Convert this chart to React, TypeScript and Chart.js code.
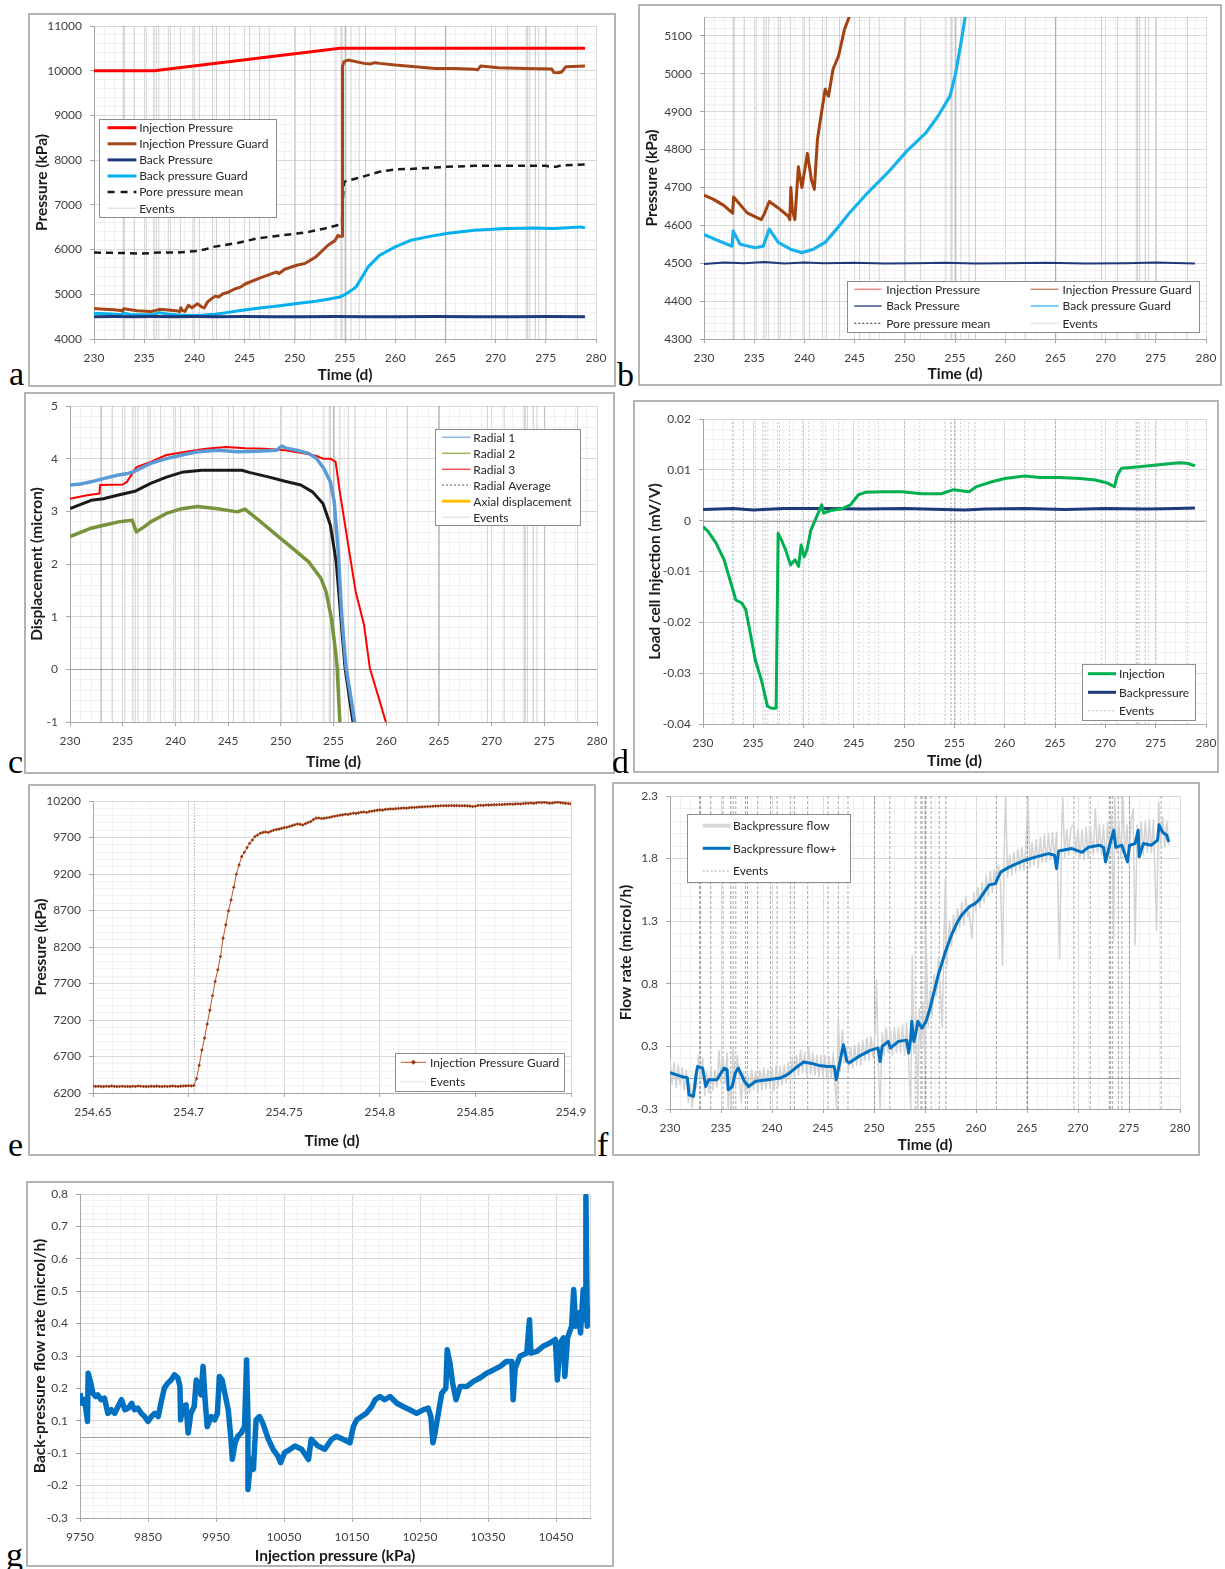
import React, { useEffect, useRef } from "react";
import { Chart, registerables } from "chart.js";

Chart.register(...registerables);

type Pt = [number, number];

const SANS = "Lato, 'Open Sans', 'Liberation Sans', sans-serif";
const SERIF = "'Liberation Serif', 'DejaVu Serif', serif";
Chart.defaults.font.family = SANS;

// ---------------- experiment log ----------------

// Logged events (time in days)
const EVENT_TIMES = [
  232.9, 233.0, 234.0, 235.2, 235.95, 236.2, 236.45, 237.4, 237.6, 238.6, 239.85,
  240.5, 241.8, 242.2, 243.5, 245.5, 246.5, 247.45, 250.05, 251.55, 254.1, 254.6,
  254.703, 255.0, 255.1, 255.6, 256.4, 257.05, 262.0, 265.0, 265.05, 269.6, 271.2,
  273.1, 273.2, 273.4, 273.95, 274.3, 275.05, 278.15,
];

// Pressures (kPa) against time (d)
const INJECTION_PRESSURE: Pt[] = [[230, 10000], [236, 10000], [254.5, 10500], [278.9, 10500]];

const INJECTION_GUARD: Pt[] = [
  [230, 4680], [231, 4668], [232, 4652], [232.85, 4632], [232.95, 4675], [234.3, 4633],
  [235.7, 4615], [236.0, 4630], [236.5, 4663], [237.4, 4646], [238.4, 4624], [238.55, 4615],
  [238.65, 4700], [238.8, 4640], [239.05, 4615], [239.4, 4755], [239.75, 4700], [240.3, 4790],
  [240.7, 4720], [240.99, 4695], [241.3, 4827], [241.7, 4897], [242.07, 4959], [242.4, 4941],
  [242.85, 5012], [243.4, 5047], [244.0, 5118], [244.6, 5160], [245.05, 5230], [246.5, 5360],
  [248.2, 5500], [248.4, 5460], [249, 5560], [250.2, 5649], [251.0, 5687], [252.1, 5836],
  [253.3, 6097], [254.0, 6200], [254.3, 6321], [254.5, 6290], [254.703, 6300], [254.72, 8700],
  [254.737, 9700], [254.8, 10100], [254.9, 10201], [255.3, 10239], [256.9, 10164], [257.5, 10150],
  [258, 10180], [258.45, 10164], [260.0, 10127], [262.0, 10090], [264, 10052], [265.9, 10052],
  [267.9, 10030], [268.2, 10020], [268.5, 10104], [270.3, 10067], [273, 10052], [275.6, 10037],
  [275.8, 9960], [276.3, 9955], [276.6, 9977], [277, 10090], [278.9, 10104],
];

const BACK_PRESSURE: Pt[] = [
  [230, 4498], [232, 4502], [234, 4500], [236, 4503], [238, 4499], [240, 4502], [242, 4500],
  [245, 4501], [248, 4499], [251, 4500], [254, 4501], [257, 4499], [260, 4500], [264, 4501],
  [268, 4499], [272, 4500], [275, 4502], [278.9, 4499],
];

const BACK_GUARD: Pt[] = [
  [230, 4576], [231.2, 4562], [232.8, 4545], [232.9, 4585], [233.6, 4550], [235.1, 4541],
  [235.9, 4545], [236.5, 4590], [237.4, 4555], [238.6, 4537], [239.75, 4528], [240.9, 4537],
  [242.07, 4555], [243.2, 4590], [244.4, 4630], [246.3, 4686], [248.3, 4739], [250.2, 4796],
  [252.1, 4844], [253.3, 4888], [254.5, 4941], [255.04, 4998], [255.6, 5082], [256.1, 5164],
  [257.3, 5612], [258.45, 5873], [260, 6060], [261.6, 6209], [263.2, 6284], [265.1, 6358],
  [267.9, 6433], [271.05, 6470], [273.8, 6485], [275.8, 6470], [278.5, 6507], [278.9, 6485],
];

const PORE_MEAN: Pt[] = [
  [230, 5933], [232.4, 5925], [234.8, 5910], [236.4, 5933], [238.35, 5933], [240.3, 5970],
  [241.1, 6007], [241.9, 6060], [244.3, 6149], [246.2, 6246], [248.2, 6306], [250.2, 6358],
  [251.4, 6396], [253, 6470], [254.5, 6560], [254.7, 6600], [254.75, 7000], [254.9, 7515],
  [256.1, 7590], [257.3, 7664], [258.45, 7739], [260, 7791], [262.4, 7813], [265.1, 7851],
  [267.9, 7873], [270.7, 7873], [275, 7873], [275.4, 7851], [276, 7850], [276.5, 7880], [278.9, 7903],
];

// Displacements (micron)
const RADIAL_1: Pt[] = [
  [230, 3.5], [231, 3.52], [232, 3.56], [233.15, 3.62], [234.6, 3.69], [235.5, 3.72], [236.15, 3.76],
  [237.65, 3.91], [239.15, 4.0], [240.6, 4.07], [242.1, 4.13], [244.0, 4.16], [245.9, 4.13],
  [247.75, 4.14], [249.6, 4.16], [250.1, 4.24], [250.5, 4.2], [251.5, 4.16], [252.65, 4.1],
  [253.4, 4.0], [254.1, 3.81], [254.7, 3.56], [255.07, 3.18], [255.45, 2.23], [255.8, 0.97],
  [256.2, 0.02], [256.76, -0.67], [257.0, -1.0], [257.1, -1.2],
];
const RADIAL_2: Pt[] = [
  [230, 2.52], [231, 2.6], [232, 2.68], [233.3, 2.74], [234.6, 2.8], [235.9, 2.83], [236.3, 2.61],
  [237, 2.7], [237.65, 2.8], [239.15, 2.96], [240.6, 3.05], [242.1, 3.09], [244.0, 3.05],
  [245.9, 2.99], [246.6, 3.04], [248.1, 2.8], [249.6, 2.55], [251.1, 2.3], [252.65, 2.04],
  [253.8, 1.73], [254.3, 1.47], [254.8, 0.97], [255.2, 0.34], [255.35, 0.02], [255.6, -1.0], [255.65, -1.2],
];
const RADIAL_3: Pt[] = [
  [230, 3.24], [231.5, 3.3], [232.8, 3.34], [232.85, 3.5], [235, 3.51], [235.4, 3.56], [236.3, 3.84],
  [237.65, 3.94], [239.15, 4.07], [241, 4.13], [242.9, 4.19], [244.8, 4.22], [246.6, 4.2],
  [248.5, 4.19], [250.4, 4.16], [252.3, 4.1], [253.4, 4.05], [254.0, 4.0], [254.7, 4.0],
  [255.2, 3.94], [255.6, 3.37], [256.4, 2.36], [257.1, 1.48], [257.9, 0.84], [258.45, 0.02],
  [259.2, -0.48], [259.95, -0.99], [260.1, -1.1],
];
const RADIAL_AVERAGE: Pt[] = [
  [230, 3.05], [232, 3.21], [233.15, 3.24], [234.6, 3.31], [236.15, 3.38], [237.65, 3.53],
  [239.15, 3.65], [240.6, 3.74], [242.5, 3.78], [244.4, 3.78], [246.3, 3.78], [247, 3.74],
  [248.9, 3.65], [250.4, 3.57], [251.9, 3.5], [253, 3.37], [254, 3.15], [254.7, 2.74],
  [255.26, 2.04], [255.7, 0.97], [256.1, 0.02], [256.6, -0.67], [256.85, -1.0], [256.95, -1.2],
];
// no axial samples inside the plotted window
const AXIAL_DISPLACEMENT: Pt[] = [];

// Load cells (mV/V)
const LOAD_INJECTION: Pt[] = [
  [230, -0.00116], [230.5, -0.0021], [231.3, -0.0044], [232.1, -0.0077], [232.87, -0.0129],
  [233.26, -0.0156], [233.85, -0.0162], [234.25, -0.0175], [234.64, -0.0215], [235.2, -0.0274],
  [235.8, -0.0313], [236.4, -0.0365], [236.8, -0.0369], [237.27, -0.0369], [237.47, -0.0025],
  [237.8, -0.0038], [238.2, -0.0057], [238.7, -0.0087], [239.15, -0.0077], [239.5, -0.009],
  [239.75, -0.0048], [240.06, -0.0071], [240.34, -0.0057], [240.73, -0.0018], [241.3, 0.0008],
  [241.8, 0.0031], [241.98, 0.0015], [242.7, 0.002], [243.9, 0.0024], [244.66, 0.0031],
  [245.45, 0.0051], [246.2, 0.0056], [247.8, 0.0057], [249.8, 0.0057], [251.7, 0.0053],
  [253.7, 0.0053], [254.9, 0.0061], [256.45, 0.0057], [257.2, 0.0067], [258.8, 0.0077],
  [260, 0.0083], [261.95, 0.0088], [263.5, 0.0085], [265.5, 0.0085], [267.5, 0.0083],
  [269, 0.008], [270.2, 0.0074], [270.9, 0.0067], [271.2, 0.009], [271.6, 0.0103],
  [273.35, 0.0106], [275.3, 0.011], [277.3, 0.0114], [278.1, 0.0113], [278.9, 0.0108],
];
const LOAD_BACKPRESSURE: Pt[] = [
  [230, 0.0022], [233, 0.0024], [235, 0.0021], [238, 0.0024], [242, 0.0024], [246, 0.0023],
  [250, 0.0024], [254, 0.0022], [256, 0.0021], [258, 0.0023], [262, 0.0024], [266, 0.0022],
  [270, 0.0024], [274, 0.0023], [277, 0.0024], [278.9, 0.0025],
];

// Injection pressure guard around the breakthrough, logged every 2 minutes
const E_START = 254.65;
const E_STEP = 1 / 720;
const E_GUARD_KPA = [
  6295, 6290, 6292, 6290, 6288, 6292, 6290, 6295, 6290, 6288, 6290, 6292, 6290, 6290, 6288, 6292,
  6290, 6295, 6292, 6290, 6288, 6290, 6292, 6290, 6294, 6290, 6288, 6292, 6290, 6292, 6296, 6292,
  6290, 6294, 6296, 6298, 6300, 6298, 6302,
  6396, 6579, 6788, 6952, 7144, 7335, 7532, 7728, 7888, 8070, 8321, 8503, 8695, 8845, 9019, 9197,
  9324, 9438, 9498, 9561, 9621, 9666, 9712, 9735, 9758,
  9770, 9775, 9768, 9785, 9800, 9810, 9815, 9825, 9835, 9840, 9850, 9862, 9875, 9885, 9880, 9872,
  9890, 9905, 9920, 9945, 9965, 9968, 9960, 9962,
  9970, 9975, 9985, 9992, 9998, 10005, 10010, 10018, 10015, 10025, 10032, 10030, 10038,
  10045, 10050, 10042, 10055, 10060, 10068, 10072, 10078, 10075, 10085, 10088, 10092, 10090, 10095, 10098,
  10100, 10105, 10102, 10108, 10112, 10110, 10115, 10118, 10120, 10122, 10125, 10124, 10128, 10130, 10132,
  10134, 10135, 10136, 10135, 10138, 10136, 10137, 10135, 10134, 10136, 10133, 10130, 10125, 10128, 10140,
  10142, 10140, 10145, 10144, 10146, 10150, 10148, 10152, 10150, 10154, 10156, 10158, 10155, 10160,
  10162, 10158, 10165, 10168, 10170, 10172, 10168, 10175, 10180, 10178, 10182, 10176, 10170, 10172,
  10180, 10184, 10178, 10172, 10168, 10165, 10160,
];

// Back-pressure flow (microl/h)
const FLOW_RAW: Pt[] = [
  [230.0, 0.15], [230.2, -0.05], [230.4, 0.12], [230.6, -0.08], [230.8, 0.1], [231.0, -0.06],
  [231.2, 0.08], [231.4, -0.1], [231.6, 0.06], [231.8, -0.2], [232.0, -0.05], [232.2, -0.24],
  [232.4, 0.02], [232.6, -0.08], [232.8, 0.18], [233.0, -0.02], [233.2, 0.16], [233.4, -0.14],
  [233.6, 0.05], [233.8, -0.12], [234.0, 0.08], [234.2, -0.1], [234.4, 0.06], [234.6, -0.08],
  [234.8, 0.22], [235.0, -0.04], [235.2, 0.16], [235.4, -0.05], [235.6, 0.2], [235.7, -0.25],
  [235.9, 0.02], [236.0, -0.25], [236.2, 0.24], [236.4, -0.06], [236.6, 0.18], [236.8, -0.02],
  [237.0, -0.2], [237.2, 0.05], [237.4, -0.14], [237.6, 0.04], [237.8, -0.12], [238.0, 0.06],
  [238.2, -0.1], [238.4, 0.05], [238.6, -0.12], [238.8, 0.06], [239.0, -0.1], [239.2, 0.08],
  [239.4, -0.09], [239.6, 0.07], [239.8, -0.08], [240.0, 0.08], [240.2, -0.1], [240.4, 0.1],
  [240.6, -0.07], [240.8, 0.09], [241.0, -0.06], [241.2, 0.1], [241.4, -0.04], [241.6, 0.12],
  [241.8, -0.02], [242.0, 0.16], [242.2, 0.0], [242.4, 0.18], [242.6, 0.02], [242.8, 0.22],
  [243.0, 0.04], [243.2, 0.2], [243.4, 0.02], [243.6, 0.24], [243.8, 0.03], [244.0, 0.2],
  [244.2, 0.02], [244.4, 0.18], [244.6, 0.0], [244.8, 0.18], [245.0, 0.01], [245.2, 0.18],
  [245.4, -0.02], [245.6, 0.17], [245.8, 0.0], [246.0, 0.2], [246.2, -0.08], [246.35, -0.25],
  [246.5, 0.48], [246.7, 0.05], [246.9, 0.38], [247.1, 0.12], [247.3, 0.24], [247.5, 0.06],
  [247.7, 0.25], [247.9, 0.08], [248.1, 0.26], [248.3, 0.1], [248.5, 0.28], [248.7, 0.1],
  [248.9, 0.3], [249.1, 0.14], [249.3, 0.32], [249.5, 0.14], [249.7, 0.33], [249.9, 0.16],
  [250.1, 0.36], [250.25, 0.78], [250.4, 0.16], [250.6, -0.25], [250.8, 0.36], [251.0, 0.18],
  [251.2, 0.4], [251.4, 0.2], [251.6, 0.38], [251.8, 0.18], [252.0, 0.4], [252.2, 0.2],
  [252.4, 0.4], [252.6, 0.2], [252.8, 0.42], [253.0, 0.18], [253.2, 0.44], [253.4, 0.12],
  [253.6, -0.25], [253.75, 0.98], [253.9, 0.2], [254.1, 0.5], [254.3, -0.25], [254.45, 0.55],
  [254.6, 0.25], [254.8, 0.6], [255.0, 0.1], [255.1, 1.17], [255.3, 0.4], [255.5, 0.7],
  [255.7, 0.5], [255.9, 0.82], [256.1, 0.65], [256.3, 0.95], [256.5, 0.7], [256.7, 0.4],
  [256.85, 1.1], [257.0, 1.59], [257.15, 0.9], [257.4, 1.25], [257.6, 1.05], [257.8, 1.3],
  [258.0, 1.15], [258.2, 1.35], [258.4, 1.2], [258.6, 1.4], [258.8, 1.22], [259.0, 1.45],
  [259.2, 1.28], [259.35, 1.33], [259.6, 1.11], [259.8, 1.48], [260.0, 1.32], [260.2, 1.52],
  [260.4, 1.36], [260.6, 1.56], [260.8, 1.4], [261.0, 1.62], [261.2, 1.45], [261.4, 1.65],
  [261.6, 1.48], [261.8, 1.66], [262.0, 1.5], [262.2, 1.7], [262.4, 1.55], [262.6, 0.9],
  [262.75, 1.74], [262.9, 2.24], [263.1, 1.6], [263.3, 1.78], [263.5, 1.62], [263.7, 1.8],
  [263.9, 1.64], [264.1, 1.82], [264.3, 1.66], [264.5, 1.84], [264.7, 1.66], [264.9, 1.86],
  [265.1, 2.23], [265.3, 1.68], [265.5, 1.88], [265.7, 1.7], [265.9, 1.9], [266.1, 1.68],
  [266.3, 1.92], [266.5, 1.72], [266.7, 1.94], [266.9, 1.72], [267.1, 1.95], [267.3, 1.74],
  [267.5, 1.96], [267.7, 1.76], [267.9, 1.96], [268.2, 0.95], [268.4, 1.98], [268.5, 2.25],
  [268.7, 1.76], [268.9, 1.98], [269.1, 1.78], [269.3, 2.0], [269.6, 2.02], [269.8, 1.78],
  [270.0, 1.98], [270.2, 1.76], [270.4, 1.98], [270.6, 1.74], [270.8, 2.0], [271.0, 1.76],
  [271.2, 2.0], [271.5, 1.78], [271.7, 2.15], [271.9, 1.8], [272.1, 2.02], [272.3, 1.78],
  [272.5, 2.02], [272.7, 1.7], [272.9, 2.04], [273.1, 1.78], [273.3, 2.1], [273.5, 1.1],
  [273.6, 2.25], [273.8, 1.8], [274.0, 2.05], [274.2, 1.75], [274.4, 2.25], [274.6, 1.75],
  [274.8, 2.02], [275.0, 1.7], [275.2, 2.05], [275.4, 2.15], [275.6, 1.06], [275.8, 2.02],
  [276.0, 1.78], [276.2, 2.04], [276.4, 1.78], [276.6, 2.05], [276.8, 1.8], [277.0, 2.06],
  [277.2, 1.8], [277.4, 2.06], [277.7, 1.18], [277.9, 2.2], [278.1, 1.85], [278.3, 2.08],
  [278.5, 1.84], [278.7, 2.05], [278.9, 1.86],
];

const FLOW_SMOOTH: Pt[] = [
  [230, 0.04], [231.1, 0.01], [231.7, 0.0], [231.86, -0.136], [232.3, -0.149], [232.56, 0.025],
  [232.7, 0.09], [233.2, 0.077], [233.5, -0.07], [233.8, -0.016], [234.6, -0.016], [235.3, 0.077],
  [235.6, 0.064], [235.7, -0.096], [236.1, -0.07], [236.4, 0.037], [236.7, 0.077], [237.3, -0.029],
  [237.7, -0.07], [238.4, -0.029], [239.6, -0.016], [240.8, -0.003], [241.5, 0.024], [242.3, 0.077],
  [243.1, 0.125], [243.9, 0.114], [244.6, 0.098], [245.4, 0.09], [246.1, 0.09], [246.3, -0.016],
  [246.6, 0.103], [247.0, 0.263], [247.35, 0.13], [247.55, 0.117], [248.5, 0.17], [249.7, 0.22],
  [250.4, 0.236], [250.6, 0.13], [250.8, 0.25], [251.4, 0.29], [251.6, 0.236], [252.4, 0.29],
  [253.2, 0.3], [253.4, 0.197], [253.6, 0.316], [253.7, 0.45], [253.9, 0.29], [254.1, 0.356],
  [254.3, 0.45], [254.7, 0.396], [255.1, 0.45], [255.5, 0.555], [255.9, 0.69], [256.3, 0.82],
  [256.65, 0.914], [257.0, 1.006], [257.6, 1.14], [258.2, 1.246], [258.6, 1.3], [259.35, 1.366],
  [259.9, 1.39], [260.3, 1.42], [260.7, 1.47], [261.3, 1.54], [261.9, 1.55], [262.1, 1.59],
  [262.45, 1.644], [263.2, 1.68], [264, 1.71], [264.8, 1.737], [265.9, 1.764], [267.1, 1.79],
  [267.7, 1.777], [267.9, 1.67], [268.1, 1.81], [269.4, 1.83], [270.4, 1.8], [271, 1.84],
  [272.1, 1.857], [272.5, 1.84], [272.7, 1.724], [273.1, 1.857], [273.5, 1.976], [273.7, 1.84],
  [274.3, 1.857], [274.85, 1.724], [275.05, 1.857], [275.6, 1.87], [275.9, 1.976], [276, 1.764],
  [276.4, 1.87], [277.2, 1.857], [277.8, 1.897], [277.95, 2.02], [278.3, 1.96], [278.7, 1.936],
  [278.9, 1.883],
];

// Back-pressure flow rate (microl/h) against injection pressure (kPa)
const FLOW_VS_PRESSURE: Pt[] = [
  [9750, 0.135], [9753, 0.104], [9757, 0.115], [9761, 0.048], [9762, 0.197], [9766, 0.166],
  [9769, 0.135], [9773, 0.125], [9776, 0.13], [9781, 0.115], [9786, 0.12], [9791, 0.073],
  [9796, 0.084], [9801, 0.073], [9806, 0.094], [9811, 0.115], [9816, 0.084], [9821, 0.089],
  [9826, 0.104], [9830, 0.084], [9835, 0.089], [9840, 0.073], [9845, 0.063], [9850, 0.048],
  [9855, 0.063], [9860, 0.073], [9865, 0.063], [9869, 0.104], [9874, 0.151], [9879, 0.166],
  [9884, 0.176], [9889, 0.192], [9894, 0.182], [9897, 0.156], [9898, 0.053], [9901, 0.094],
  [9906, 0.099], [9909, 0.012], [9913, 0.073], [9918, 0.094], [9921, 0.176], [9925, 0.156],
  [9928, 0.13], [9931, 0.218], [9934, 0.115], [9937, 0.032], [9943, 0.063], [9948, 0.053],
  [9952, 0.073], [9955, 0.187], [9959, 0.176], [9963, 0.135], [9968, 0.084], [9972, -0.007],
  [9974, -0.069], [9978, -0.018], [9982, 0.002], [9987, 0.012], [9992, 0.032], [9995, 0.238],
  [9997, 0.053], [9997, -0.162], [10001, -0.069], [10005, -0.1], [10009, 0.053], [10014, 0.063],
  [10019, 0.042], [10027, -0.007], [10034, -0.038], [10041, -0.059], [10045, -0.079],
  [10051, -0.048], [10059, -0.038], [10066, -0.028], [10076, -0.038], [10086, -0.069],
  [10090, -0.007], [10100, -0.028], [10110, -0.038], [10120, -0.007], [10127, 0.002],
  [10137, -0.007], [10147, -0.018], [10152, 0.032], [10157, 0.053], [10164, 0.063],
  [10171, 0.073], [10179, 0.094], [10184, 0.115], [10191, 0.125], [10198, 0.115], [10206, 0.125],
  [10216, 0.104], [10225, 0.094], [10235, 0.084], [10245, 0.073], [10255, 0.084], [10262, 0.089],
  [10266, 0.063], [10269, -0.018], [10272, 0.012], [10277, 0.073], [10282, 0.135], [10288, 0.151],
  [10290, 0.269], [10294, 0.228], [10298, 0.166], [10303, 0.115], [10309, 0.156], [10319, 0.156],
  [10328, 0.171], [10338, 0.182], [10348, 0.197], [10358, 0.207], [10368, 0.218], [10377, 0.233],
  [10385, 0.233], [10387, 0.115], [10390, 0.213], [10397, 0.249], [10407, 0.259], [10411, 0.362],
  [10413, 0.259], [10422, 0.264], [10431, 0.28], [10441, 0.29], [10449, 0.301], [10452, 0.176],
  [10456, 0.29], [10461, 0.306], [10463, 0.187], [10467, 0.306], [10473, 0.342], [10476, 0.455],
  [10479, 0.342], [10483, 0.383], [10486, 0.321], [10490, 0.455], [10493, 0.362], [10494, 0.743],
  [10496, 0.342], [10499, 0.393], [10500, 0.352],
];

// ---------------- chart helpers ----------------

const BW = 2; // panel frame width
const MAJOR_GRID = "#d9d9d9";
const MINOR_GRID = "#f1f1f1";
const AXIS_LINE = "#a6a6a6";
const TITLE_FONT = 15.5;
const TITLE_LH = 1.2;

type Geo = { box: number[]; plot: number[]; yTitleX: number; xTitleY: number };

interface AxisSpec {
  min: number;
  max: number;
  origin?: number;
  minor: number;
  major: number;
  title: string;
  fmt: (v: number) => string;
}

const near = (a: number, b: number) => Math.abs(a - b) < 1e-7;
const isMajor = (s: AxisSpec, v: number) => {
  const k = (v - (s.origin ?? s.min)) / s.major;
  return Math.abs(k - Math.round(k)) < 1e-6;
};
// spreadsheet style rounding to one decimal (half away from zero)
const oneDecimal = (v: number) => (Math.sign(v) * Math.round(Math.abs(v) * 10 + 1e-7) / 10).toFixed(1);
const plain = (v: number) => String(+v.toFixed(4));

function gridValues(s: AxisSpec) {
  const o = s.origin ?? s.min;
  const out: number[] = [];
  for (let i = 0; i < 2000; i++) {
    const v = Math.round((o + i * s.minor) * 1e9) / 1e9;
    if (v > s.max + 1e-9) break;
    if (v >= s.min - 1e-9) out.push(v);
  }
  if (!near(out[out.length - 1], s.max)) out.push(s.max);
  return out;
}

function scaleCfg(s: AxisSpec, axis: "x" | "y", size: number, titlePad: number) {
  const values = gridValues(s);
  const strong = (v: number) => isMajor(s, v) || near(v, s.min) || near(v, s.max);
  return {
    type: "linear",
    position: axis === "x" ? "bottom" : "left",
    min: s.min,
    max: s.max,
    afterBuildTicks: (sc: any) => {
      sc.ticks = values.map((value) => ({ value }));
    },
    afterFit: (sc: any) => {
      if (axis === "x") sc.height = size;
      else sc.width = size;
      sc.paddingLeft = 0;
      sc.paddingRight = 0;
      sc.paddingTop = 0;
      sc.paddingBottom = 0;
    },
    grid: {
      color: (c: any) => (c.tick && strong(c.tick.value) ? MAJOR_GRID : MINOR_GRID),
      lineWidth: 1,
      drawTicks: true,
      tickLength: 4,
      tickColor: (c: any) => (c.tick && isMajor(s, c.tick.value) ? AXIS_LINE : "rgba(0,0,0,0)"),
    },
    border: { display: true, color: AXIS_LINE, width: 1 },
    ticks: {
      autoSkip: false,
      maxRotation: 0,
      minRotation: 0,
      padding: 8,
      color: "#404040",
      font: { family: SANS, size: 12 },
      callback: (v: number) => (isMajor(s, v) ? s.fmt(v) : ""),
    },
    title: {
      display: true,
      text: s.title,
      color: "#1a1a1a",
      font: { family: SANS, size: TITLE_FONT, weight: "bold", lineHeight: TITLE_LH },
      padding: axis === "x" ? { top: 0, bottom: titlePad } : { top: titlePad, bottom: 0 },
    },
  };
}

const toXY = (pts: Pt[]) => pts.map(([x, y]) => ({ x, y }));

function series(label: string, pts: Pt[], color: string, width: number, dash: number[] = [], extra: any = {}) {
  return {
    label,
    data: toXY(pts),
    borderColor: color,
    backgroundColor: color,
    borderWidth: width,
    borderDash: dash,
    pointRadius: 0,
    fill: false,
    tension: 0,
    borderJoinStyle: "round",
    ...extra,
  };
}

function eventSeries(lo: number, hi: number, color: string, dash: number[] = []) {
  const data: { x: number; y: number | null }[] = [];
  EVENT_TIMES.forEach((t) => {
    data.push({ x: t, y: lo }, { x: t, y: hi }, { x: t, y: null });
  });
  return {
    label: "Events",
    data,
    borderColor: color,
    borderWidth: 1,
    borderDash: dash,
    pointRadius: 0,
    fill: false,
    spanGaps: false,
    order: 99,
  };
}

interface LegendStyle {
  color: string;
  width: number;
  dash?: number[];
  marker?: string;
}
interface LegendSpec {
  box: number[];
  rows: number[];
  cols: number[][]; // [sample start, sample end, text x] per column
  styles: LegendStyle[];
}

function legendPlugin(spec: LegendSpec, ox: number, oy: number) {
  return {
    id: "boxLegend",
    afterDraw(chart: any) {
      const ctx = chart.ctx;
      const labels = chart.data.datasets.map((d: any) => d.label);
      const [l, t, r, b] = spec.box;
      ctx.save();
      ctx.fillStyle = "#ffffff";
      ctx.fillRect(l - ox, t - oy, r - l, b - t);
      ctx.strokeStyle = "#8c8c8c";
      ctx.lineWidth = 1;
      ctx.setLineDash([]);
      ctx.strokeRect(Math.round(l - ox) + 0.5, Math.round(t - oy) + 0.5, Math.round(r - l), Math.round(b - t));
      ctx.font = `12px ${SANS}`;
      ctx.textBaseline = "middle";
      ctx.textAlign = "left";
      const nCols = spec.cols.length;
      spec.styles.forEach((st, i) => {
        const [s0, s1, tx] = spec.cols[i % nCols];
        const y = spec.rows[Math.floor(i / nCols)] - oy;
        ctx.beginPath();
        ctx.setLineDash(st.dash || []);
        ctx.strokeStyle = st.color;
        ctx.lineWidth = st.width;
        ctx.moveTo(s0 - ox, y);
        ctx.lineTo(s1 - ox, y);
        ctx.stroke();
        ctx.setLineDash([]);
        if (st.marker) {
          const cx = (s0 + s1) / 2 - ox;
          ctx.fillStyle = st.marker;
          ctx.beginPath();
          ctx.moveTo(cx, y - 2.5);
          ctx.lineTo(cx + 2.5, y);
          ctx.lineTo(cx, y + 2.5);
          ctx.lineTo(cx - 2.5, y);
          ctx.closePath();
          ctx.fill();
        }
        ctx.fillStyle = "#262626";
        ctx.fillText(labels[i], tx - ox, y + 0.5);
      });
      ctx.restore();
    },
  };
}

const zeroLine = {
  id: "zeroLine",
  beforeDatasetsDraw(chart: any) {
    const { left, right } = chart.chartArea;
    const py = Math.round(chart.scales.y.getPixelForValue(0)) + 0.5;
    const ctx = chart.ctx;
    ctx.save();
    ctx.strokeStyle = "#a0a0a0";
    ctx.lineWidth = 1;
    ctx.beginPath();
    ctx.moveTo(left, py);
    ctx.lineTo(right, py);
    ctx.stroke();
    ctx.restore();
  },
};

function buildConfig(geo: Geo, x: AxisSpec, y: AxisSpec, datasets: any[], legend: LegendSpec | null, withZero: boolean) {
  const il = geo.box[0] + BW;
  const it = geo.box[1] + BW;
  const ir = geo.box[2] - BW;
  const ib = geo.box[3] - BW;
  const [pl, pt, pr, pb] = geo.plot;
  const half = (TITLE_FONT * TITLE_LH) / 2;
  const plugins: any[] = [];
  if (withZero) plugins.push(zeroLine);
  if (legend) plugins.push(legendPlugin(legend, il, it));
  return {
    type: "line",
    data: { datasets },
    plugins,
    options: {
      responsive: false,
      maintainAspectRatio: false,
      animation: false,
      devicePixelRatio: 1,
      events: [],
      layout: { padding: { left: 0, top: pt - it, right: ir - pr, bottom: 0 } },
      plugins: { legend: { display: false }, tooltip: { enabled: false }, title: { display: false } },
      elements: { point: { radius: 0 }, line: { tension: 0 } },
      scales: {
        x: scaleCfg(x, "x", ib - pb, ib - geo.xTitleY - half),
        y: scaleCfg(y, "y", pl - il, geo.yTitleX - il - half),
      },
    },
  };
}

const timeAxis = (): AxisSpec => ({ min: 230, max: 280, minor: 1, major: 5, title: "Time (d)", fmt: plain });

// ---------------- panels ----------------

const GEO: Record<string, Geo> = {
  a: { box: [28, 13, 616, 387], plot: [94, 26, 596, 339], yTitleX: 41.5, xTitleY: 375 },
  b: { box: [638, 4, 1222, 386], plot: [704, 17, 1206, 339], yTitleX: 652, xTitleY: 374 },
  c: { box: [24, 392, 615, 774], plot: [70, 406, 597, 722], yTitleX: 36.5, xTitleY: 761.5 },
  d: { box: [633, 400, 1219, 773], plot: [703, 419, 1206, 724], yTitleX: 654.5, xTitleY: 760.5 },
  e: { box: [28, 784, 596, 1156], plot: [93, 801, 571, 1093], yTitleX: 41, xTitleY: 1140.5 },
  f: { box: [612, 782, 1200, 1156], plot: [670, 796, 1180, 1109], yTitleX: 625.5, xTitleY: 1145 },
  g: { box: [26, 1181, 614, 1567], plot: [80, 1194, 590, 1518], yTitleX: 39.5, xTitleY: 1555.5 },
};

function configA(geo: Geo) {
  const y: AxisSpec = { min: 4000, max: 11000, minor: 200, major: 1000, title: "Pressure (kPa)", fmt: plain };
  const ds = [
    series("Injection Pressure", INJECTION_PRESSURE, "#ff0000", 3),
    series("Injection Pressure Guard", INJECTION_GUARD, "#a5461a", 3),
    series("Back Pressure", BACK_PRESSURE, "#1f3a7a", 3),
    series("Back pressure Guard", BACK_GUARD, "#00b0f0", 3),
    series("Pore pressure mean", PORE_MEAN, "#1a1a1a", 2.5, [7, 5]),
    eventSeries(4000, 11000, "rgba(130,130,130,0.35)"),
  ];
  const legend: LegendSpec = {
    box: [99, 119, 276, 217],
    rows: [127.7, 143.8, 159.9, 176, 192.1, 208.2],
    cols: [[107.6, 136.4, 139.2]],
    styles: [
      { color: "#ff0000", width: 3 },
      { color: "#a5461a", width: 3 },
      { color: "#1f3a7a", width: 3 },
      { color: "#00b0f0", width: 3 },
      { color: "#1a1a1a", width: 2.5, dash: [7, 6] },
      { color: "#d4d4d4", width: 1 },
    ],
  };
  return buildConfig(geo, timeAxis(), y, ds, legend, false);
}

function configB(geo: Geo) {
  const y: AxisSpec = { min: 4300, max: 5150, origin: 4300, minor: 20, major: 100, title: "Pressure (kPa)", fmt: plain };
  const ds = [
    series("Injection Pressure", INJECTION_PRESSURE, "#ff0000", 1.5),
    series("Injection Pressure Guard", INJECTION_GUARD, "#a3410f", 3),
    series("Back Pressure", BACK_PRESSURE, "#1f3a7a", 2),
    series("Back pressure Guard", BACK_GUARD, "#17b2ee", 3.2),
    series("Pore pressure mean", PORE_MEAN, "#404040", 1.2, [2, 2]),
    eventSeries(4300, 5150, "rgba(130,130,130,0.35)"),
  ];
  const legend: LegendSpec = {
    box: [847, 281, 1199, 332],
    rows: [289.3, 306, 323.3],
    cols: [
      [854.3, 881.5, 886.2],
      [1030.6, 1058.6, 1062.5],
    ],
    styles: [
      { color: "#f28a8a", width: 1.5 },
      { color: "#c98f70", width: 1.5 },
      { color: "#3a4f8f", width: 1.5 },
      { color: "#4cc3f0", width: 1.5 },
      { color: "#505050", width: 1.2, dash: [2, 2] },
      { color: "#d9d9d9", width: 1 },
    ],
  };
  return buildConfig(geo, timeAxis(), y, ds, legend, false);
}

function configC(geo: Geo) {
  const y: AxisSpec = { min: -1, max: 5, minor: 0.2, major: 1, title: "Displacement (micron)", fmt: plain };
  const ds = [
    series("Radial 1", RADIAL_1, "#5b9bd5", 3.5),
    series("Radial 2", RADIAL_2, "#77933c", 3.5),
    series("Radial 3", RADIAL_3, "#ff0000", 2),
    series("Radial Average", RADIAL_AVERAGE, "#1a1a1a", 3),
    series("Axial displacement", AXIAL_DISPLACEMENT, "#ffc000", 3),
    eventSeries(-1, 5, "rgba(130,130,130,0.35)"),
  ];
  const legend: LegendSpec = {
    box: [435, 429, 580, 525],
    rows: [437.3, 453.3, 469.3, 485.2, 501.2, 517.2],
    cols: [[442, 470.5, 473.3]],
    styles: [
      { color: "#8db4e2", width: 1.5 },
      { color: "#9bbb59", width: 1.5 },
      { color: "#ff5050", width: 1.5 },
      { color: "#7f7f7f", width: 1.2, dash: [2, 2] },
      { color: "#ffc000", width: 3 },
      { color: "#d9d9d9", width: 1 },
    ],
  };
  return buildConfig(geo, timeAxis(), y, ds, legend, true);
}

function configD(geo: Geo) {
  const y: AxisSpec = { min: -0.04, max: 0.02, minor: 0.002, major: 0.01, title: "Load cell Injection (mV/V)", fmt: plain };
  const ds = [
    series("Injection", LOAD_INJECTION, "#00b050", 3),
    series("Backpressure", LOAD_BACKPRESSURE, "#1f3a7a", 3),
    eventSeries(-0.04, 0.02, "rgba(150,150,150,0.45)", [2, 2]),
  ];
  const legend: LegendSpec = {
    box: [1082, 664, 1195, 720],
    rows: [673.7, 692.3, 710.7],
    cols: [[1088, 1116, 1119]],
    styles: [
      { color: "#00b050", width: 3 },
      { color: "#1f3a7a", width: 3 },
      { color: "#bfbfbf", width: 1, dash: [2, 2] },
    ],
  };
  return buildConfig(geo, timeAxis(), y, ds, legend, true);
}

function configE(geo: Geo) {
  const x: AxisSpec = { min: 254.65, max: 254.9, minor: 0.01, major: 0.05, title: "Time (d)", fmt: plain };
  const y: AxisSpec = { min: 6200, max: 10200, minor: 100, major: 500, title: "Pressure (kPa)", fmt: plain };
  const pts: Pt[] = E_GUARD_KPA.map((v, i) => [E_START + i * E_STEP, v]);
  const ds = [
    series("Injection Pressure Guard", pts, "#c0562a", 1, [], {
      pointRadius: 1.8,
      pointStyle: "rectRot",
      pointBackgroundColor: "#9a3a10",
      pointBorderWidth: 0,
    }),
    eventSeries(6200, 10200, "rgba(120,120,120,0.6)", [1.5, 1.5]),
  ];
  const legend: LegendSpec = {
    box: [395, 1053, 564, 1091],
    rows: [1062.3, 1081.7],
    cols: [[400.8, 426, 430]],
    styles: [
      { color: "#c0562a", width: 1, marker: "#9a3a10" },
      { color: "#c8c8c8", width: 1, dash: [1.5, 1.5] },
    ],
  };
  return buildConfig(geo, x, y, ds, legend, false);
}

function configF(geo: Geo) {
  const y: AxisSpec = { min: -0.25, max: 2.25, origin: -0.25, minor: 0.1, major: 0.5, title: "Flow rate (microl/h)", fmt: oneDecimal };
  const ds = [
    series("Backpressure flow", FLOW_RAW, "#d3d3d3", 1.5, [], { order: 2 }),
    series("Backpressure flow+", FLOW_SMOOTH, "#0070c0", 3, [], { order: 1 }),
    eventSeries(-0.25, 2.25, "rgba(110,110,110,0.6)", [3, 2]),
  ];
  const legend: LegendSpec = {
    box: [687, 814, 850, 882],
    rows: [825.7, 848.3, 871],
    cols: [[702.7, 730.4, 733.1]],
    styles: [
      { color: "#d9d9d9", width: 4 },
      { color: "#0070c0", width: 3 },
      { color: "#a6a6a6", width: 1, dash: [2, 2] },
    ],
  };
  return buildConfig(geo, timeAxis(), y, ds, legend, true);
}

function configG(geo: Geo) {
  const x: AxisSpec = { min: 9750, max: 10500, minor: 20, major: 100, title: "Injection pressure (kPa)", fmt: plain };
  const y: AxisSpec = { min: -0.25, max: 0.75, origin: -0.25, minor: 0.02, major: 0.1, title: "Back-pressure flow rate (microl/h)", fmt: oneDecimal };
  const ds = [series("Back-pressure flow rate", FLOW_VS_PRESSURE, "#0070c0", 5.5)];
  return buildConfig(geo, x, y, ds, null, true);
}

const PANELS: { key: string; make: (g: Geo) => any; letter: number[] }[] = [
  { key: "a", make: configA, letter: [9, 385] },
  { key: "b", make: configB, letter: [617, 386] },
  { key: "c", make: configC, letter: [8, 773] },
  { key: "d", make: configD, letter: [612, 773] },
  { key: "e", make: configE, letter: [8, 1156] },
  { key: "f", make: configF, letter: [597, 1156] },
  { key: "g", make: configG, letter: [6, 1566] },
];

function ChartPanel({ geo, make }: { geo: Geo; make: (g: Geo) => any }) {
  const ref = useRef<HTMLCanvasElement | null>(null);
  useEffect(() => {
    if (!ref.current) return;
    const chart = new Chart(ref.current, make(geo));
    return () => chart.destroy();
  }, [geo, make]);
  const [l, t, r, b] = geo.box;
  return (
    <div
      style={{
        position: "absolute",
        left: l,
        top: t,
        width: r - l,
        height: b - t,
        boxSizing: "border-box",
        border: `${BW}px solid #b3b3b3`,
        background: "#ffffff",
      }}
    >
      <canvas ref={ref} width={r - l - 2 * BW} height={b - t - 2 * BW} style={{ display: "block" }} />
    </div>
  );
}

export default function App() {
  return (
    <div
      style={{
        position: "absolute",
        left: 0,
        top: 0,
        width: 1225,
        height: 1569,
        overflow: "hidden",
        background: "#ffffff",
      }}
    >
      {PANELS.map((p) => (
        <React.Fragment key={p.key}>
          <ChartPanel geo={GEO[p.key]} make={p.make} />
          <div
            style={{
              position: "absolute",
              left: p.letter[0],
              top: p.letter[1] - 28.5,
              fontFamily: SERIF,
              fontSize: 34,
              lineHeight: "34px",
              color: "#000",
            }}
          >
            {p.key}
          </div>
        </React.Fragment>
      ))}
    </div>
  );
}
